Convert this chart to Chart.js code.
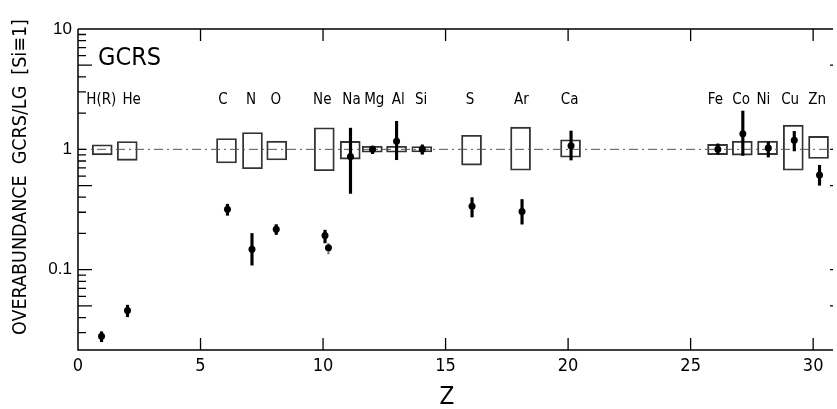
<!DOCTYPE html>
<html>
<head>
<meta charset="utf-8">
<script src="https://cdn.jsdelivr.net/npm/chart.js@4.4.1/dist/chart.umd.min.js"></script>
<style>
html, body { margin: 0; padding: 0; background: #fff; overflow: hidden; }
#wrap { width: 837px; height: 409px; }
</style>
</head>
<body>
<div id="wrap"><canvas id="cv" width="837" height="409"></canvas></div>
<script>
// element boxes (LG range, Si = 1), x as drawn in the figure
const elements = ["H(R)", "He", "C", "N", "O", "Ne", "Na", "Mg", "Al", "Si", "S", "Ar", "Ca", "Fe", "Co", "Ni", "Cu", "Zn"];
const labelZ = [0.95, 2.19, 5.92, 7.06, 8.07, 9.97, 11.16, 12.09, 13.07, 14.0, 16.0, 18.09, 20.06, 26.01, 27.06, 27.97, 29.06, 30.16];
const boxZ = [0.99, 2.01, 6.06, 7.12, 8.11, 10.05, 11.11, 12.01, 13.0, 14.03, 16.06, 18.06, 20.1, 26.1, 27.11, 28.14, 29.19, 30.22];
const boxLow = [0.90, 0.81, 0.77, 0.69, 0.815, 0.665, 0.83, 0.945, 0.945, 0.95, 0.74, 0.67, 0.86, 0.905, 0.895, 0.905, 0.67, 0.84];
const boxHigh = [1.09, 1.16, 1.23, 1.38, 1.17, 1.51, 1.165, 1.06, 1.06, 1.055, 1.31, 1.53, 1.2, 1.1, 1.17, 1.17, 1.59, 1.28];

// GCRS/LG points with error bars (index 6 = second Ne point, dotted bar)
const pointZ = [0.96, 2.02, 6.1, 7.1, 8.09, 10.08, 10.22, 11.12, 12.02, 13.0, 14.05, 16.08, 18.12, 20.12, 26.11, 27.13, 28.17, 29.23, 30.26];
const ratio = [0.028, 0.0458, 0.318, 0.148, 0.217, 0.192, 0.152, 0.87, 1.0, 1.17, 1.0, 0.336, 0.304, 1.07, 1.0, 1.35, 1.025, 1.19, 0.612];
const errLow = [0.0252, 0.0406, 0.283, 0.109, 0.196, 0.167, 0.135, 0.43, 0.92, 0.82, 0.91, 0.274, 0.239, 0.815, 0.91, 0.89, 0.863, 0.97, 0.503];
const errHigh = [0.0305, 0.0507, 0.35, 0.2, 0.237, 0.213, 0.165, 1.5, 1.065, 1.71, 1.09, 0.397, 0.383, 1.42, 1.11, 2.08, 1.15, 1.41, 0.737];

const xTicks = [0, 5, 10, 15, 20, 25, 30];
const yTicks = [0.1, 1, 10];
const rightTicks = [5, 1, 0.5, 0.1, 0.05];

const condensed = "'DejaVu Sans Condensed', 'DejaVu Sans', sans-serif";

//boxes, bars and points as datasets
let boxData = boxZ.map((z, i) => ({x: z, y: [boxLow[i], boxHigh[i]]}));
let errData = [];
let dotData = [];
pointZ.forEach((z, i) => {
    if (i === 6) dotData.push({x: z, y: [errLow[i], errHigh[i]]});
    else errData.push({x: z, y: [errLow[i], errHigh[i]]});
});
let pts = pointZ.map((z, i) => ({x: z, y: ratio[i]}));

//frame, ticks and texts
const decor = {
    id: "decor",
    afterDraw(chart) {
        const {ctx, chartArea: a} = chart;
        const x = chart.scales.x, y = chart.scales.y;
        ctx.save();
        ctx.strokeStyle = "#000";
        ctx.lineWidth = 1.5;
        ctx.beginPath();
        ctx.moveTo(a.left, a.top); ctx.lineTo(a.right, a.top);
        ctx.moveTo(a.left, a.top); ctx.lineTo(a.left, a.bottom); ctx.lineTo(a.right, a.bottom);
        ctx.stroke();

        ctx.lineWidth = 1.3;
        ctx.beginPath();
        for (let v of xTicks) {
            if (v === 0) continue;
            let px = x.getPixelForValue(v);
            ctx.moveTo(px, a.bottom); ctx.lineTo(px, a.bottom - 12);
            ctx.moveTo(px, a.top); ctx.lineTo(px, a.top + 12);
        }
        for (let dec of [0.01, 0.1, 1]) {
            for (let m = 1; m <= 9; m++) {
                let v = dec * m;
                if (v < y.min || v > y.max) continue;
                let len = (m === 5 || (dec === 0.1 && m === 1)) ? 14 : 8;
                let py = y.getPixelForValue(v);
                ctx.moveTo(a.left, py); ctx.lineTo(a.left + len, py);
            }
        }
        for (let v of rightTicks) {
            let py = y.getPixelForValue(v);
            ctx.moveTo(a.right - 3, py); ctx.lineTo(a.right, py);
        }
        ctx.stroke();

        ctx.fillStyle = "#000";
        ctx.font = "25px " + condensed;
        ctx.textAlign = "left";
        ctx.textBaseline = "alphabetic";
        ctx.fillText("GCRS", 98, 65);

        ctx.font = "15px " + condensed;
        ctx.textAlign = "center";
        elements.forEach((el, i) => {
            ctx.fillText(el, x.getPixelForValue(labelZ[i]), 104);
        });

        ctx.font = "24px " + condensed;
        ctx.textBaseline = "middle";
        ctx.fillText("Z", 447, 398);

        ctx.translate(21, 177);
        ctx.rotate(-Math.PI / 2);
        ctx.font = "19.5px " + condensed;
        ctx.fillText("OVERABUNDANCE  GCRS/LG  [Si\u22611]", 0, 0);
        ctx.restore();
    }
};

const config = {
    type: "scatter",
    data: {
        datasets: [
            {
                type: "bar", data: boxData, grouped: false, barThickness: 20,
                backgroundColor: "rgba(0,0,0,0)", borderColor: "#333", borderWidth: 1.2,
                borderSkipped: false, order: 4
            },
            {
                type: "line", data: [{x: 0, y: 1}, {x: 30.81, y: 1}],
                borderColor: "#555", borderWidth: 1, borderDash: [9, 4, 2, 4],
                pointRadius: 0, order: 3
            },
            {
                type: "bar", data: errData, grouped: false, barThickness: 2.5,
                backgroundColor: "#000", borderWidth: 0, order: 2
            },
            {
                type: "bar", data: dotData, grouped: false, barThickness: 1.5,
                backgroundColor: "#777", borderWidth: 0, order: 2
            },
            {
                data: pts, pointRadius: 3.5, pointBackgroundColor: "#000",
                pointBorderWidth: 0, order: 0
            }
        ]
    },
    options: {
        responsive: false,
        animation: false,
        events: [],
        layout: {padding: {top: 29, left: 0, right: 0, bottom: 0}},
        plugins: {legend: {display: false}, tooltip: {enabled: false}},
        scales: {
            x: {
                type: "linear", min: 0, max: 30.81, offset: false,
                grid: {display: false, drawTicks: false}, border: {display: false},
                afterBuildTicks: (s) => { s.ticks = xTicks.map((v) => ({value: v})); },
                afterFit: (s) => { s.height = 59; },
                ticks: {color: "#000", padding: 6, maxRotation: 0, font: {family: condensed, size: 18}}
            },
            y: {
                type: "logarithmic", min: 0.0215, max: 10,
                grid: {display: false, drawTicks: false}, border: {display: false},
                afterBuildTicks: (s) => { s.ticks = yTicks.map((v) => ({value: v})); },
                afterFit: (s) => { s.width = 78; },
                ticks: {
                    color: "#000", padding: 6,
                    font: {family: "'Liberation Sans', Arial, sans-serif", size: 17},
                    callback: (v) => String(v)
                }
            }
        }
    },
    plugins: [decor]
};

new Chart(document.getElementById("cv").getContext("2d"), config);
</script>
</body>
</html>
